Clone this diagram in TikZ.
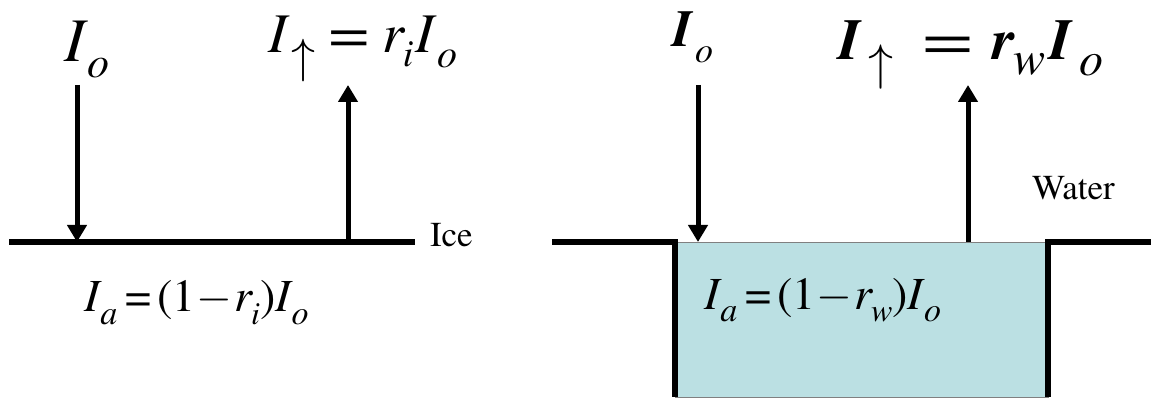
\documentclass[tikz,border=0pt]{standalone}
\usepackage[T1]{fontenc}
\usepackage{mathptmx}
\usepackage{graphicx}
\usetikzlibrary{arrows.meta}
\definecolor{waterblue}{RGB}{187,224,227}
\newcommand{\lsub}[3]{\raisebox{-#1}{\fontsize{#2}{#2}\selectfont #3}}
\newcommand{\uarr}{\ensuremath{\uparrow}}
\newcommand{\mns}{\ensuremath{-}}
\begin{document}
\begin{tikzpicture}[x=1pt,y=1pt,
  ground/.style={line width=6pt},
  ray/.style={line width=5pt,-{Triangle[width=19pt,length=17pt]}},
  lbl/.style={inner sep=0pt,outer sep=0pt,anchor=base west},
  plain/.style={lbl,font=\fontsize{35}{38}\selectfont}]
\useasboundingbox (0,0) rectangle (1151,399);
% ---------- left panel (ice) ----------
\coordinate (gl1) at (9,157);
\coordinate (gl2) at (415,157);
\draw[ground] (gl1) -- (gl2);
\node[plain] (ice) at (430,152) {Ice};
\coordinate (dA) at (77,314);
\coordinate (dB) at (77,157);
\coordinate (uA) at (348,157);
\coordinate (uB) at (348,314);
\draw[ray] (dA) -- (dB);
\draw[ray] (uA) -- (uB);
\node[lbl] (ioL) at (64,337) {\fontsize{62}{62}\selectfont\itshape I\kern3pt\lsub{16pt}{44}{o}};
\node[lbl] (iupL) at (268,346) {\fontsize{56}{56}\selectfont\itshape I\kern5pt\lsub{20pt}{48}{\uarr}\kern14pt\scalebox{1.25}[1]{\upshape =}\kern13pt r\kern-1pt\lsub{14pt}{38}{i}\kern2pt I\kern3pt\lsub{15pt}{40}{o}};
\node[lbl] (iaL) at (84,87) {\fontsize{46}{46}\selectfont\itshape I\kern1pt\lsub{12pt}{34}{a}\kern8pt{\upshape =}\kern6pt{\upshape (1}\kern1pt{\mns}\kern2pt r\kern-1pt\lsub{12pt}{32}{i}{\upshape )}I\kern1pt\lsub{12pt}{34}{o}};
% ---------- right panel (water) ----------
\coordinate (wl1) at (552,157);
\coordinate (wl2) at (675,157);
\coordinate (wl3) at (675,2);
\coordinate (wr1) at (1048,2);
\coordinate (wr2) at (1048,157);
\coordinate (wr3) at (1151,157);
\fill[waterblue,draw=gray,line width=0.8pt] (wl3) rectangle (wr2);
\draw[ground,line join=miter] (wl1) -- (wl2) -- (wl3);
\draw[ground,line join=miter] (wr1) -- (wr2) -- (wr3);
\node[plain] (water) at (1032,199) {Water};
\coordinate (dC) at (698,314);
\coordinate (dD) at (698,157);
\coordinate (uC) at (968,157);
\coordinate (uD) at (968,314);
\draw[ray] (dC) -- (dD);
\draw[ray] (uC) -- (uD);
\node[lbl] (ioR) at (672,352) {\fontsize{52}{52}\selectfont\bfseries\itshape I\kern3pt\lsub{16pt}{36}{\mdseries o}};
\node[lbl] (iupR) at (838,339) {\fontsize{58}{58}\selectfont\bfseries\itshape I\kern8pt\lsub{20pt}{50}{\uarr}\kern30pt\scalebox{1.5}[1]{\mdseries\upshape =}\kern20pt r\kern-2pt\lsub{15pt}{48}{\mdseries w}\kern4pt I\kern8pt\lsub{16pt}{48}{\mdseries o}};
\node[lbl] (iaR) at (704,89) {\fontsize{46}{46}\selectfont\itshape I\kern1pt\lsub{12pt}{34}{a}\kern8pt{\upshape =}\kern6pt{\upshape (1}\kern1pt{\mns}\kern2pt r\kern-1pt\lsub{12pt}{32}{w}{\upshape )}I\kern1pt\lsub{12pt}{34}{o}};
\end{tikzpicture}
\end{document}
